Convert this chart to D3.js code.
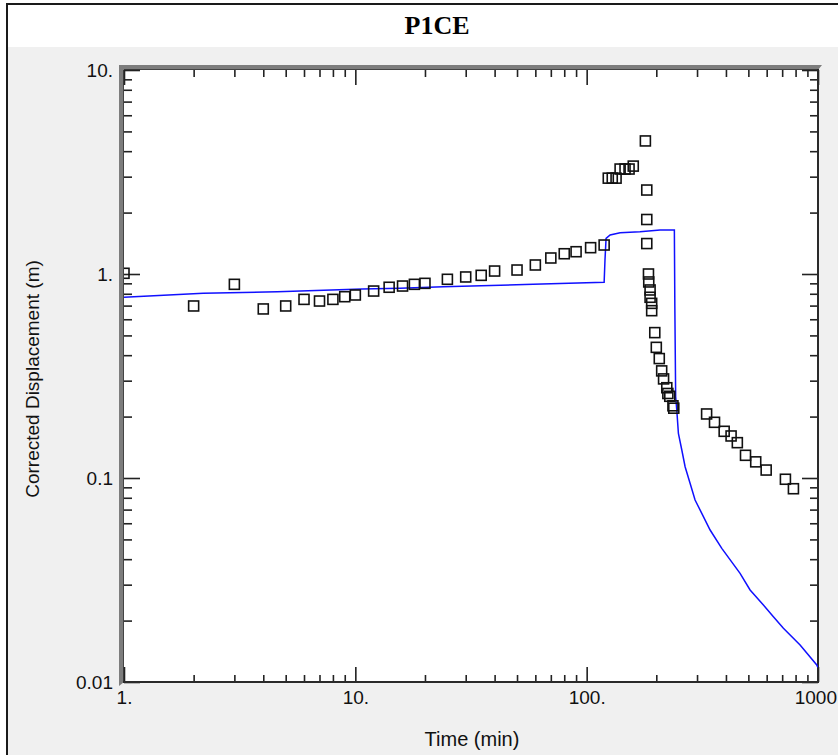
<!DOCTYPE html>
<html>
<head>
<meta charset="utf-8">
<script src="https://cdn.jsdelivr.net/npm/d3@7"></script>
<style>
  html, body { margin: 0; padding: 0; background: #ffffff; }
  svg { display: block; }
</style>
</head>
<body>
<script>
// ---- data ----
const chartTitle = "P1CE";
const xAxisTitle = "Time (min)";
const yAxisTitle = "Corrected Displacement (m)";

const xMajorTicks = [1, 10, 100, 1000];
const xTickLabels = ["1.", "10.", "100.", "1000."];
const yMajorTicks = [0.01, 0.1, 1, 10];
const yTickLabels = ["0.01", "0.1", "1.", "10."];

// observed displacement (squares)
const obsTime = [1, 2, 3, 4, 5, 6, 7, 8, 9, 10, 12, 14, 16, 18, 20, 25, 30, 35, 40, 50, 60, 70, 80, 90, 104, 119,
  124, 129, 134, 139.5, 146.5, 152.5, 159, 179.4, 181.9, 181.9, 181.9,
  185, 185.5, 188, 188, 191, 191, 197, 200, 206, 211, 215, 222, 224.4, 228.7, 236, 238,
  330, 357, 393, 421, 448, 486, 538, 597, 723, 783];
const obsDisp = [1.008, 0.697, 0.890, 0.674, 0.697, 0.751, 0.737, 0.751, 0.774, 0.789, 0.825, 0.861, 0.873, 0.890, 0.900, 0.942, 0.967, 0.985, 1.034, 1.046, 1.107, 1.198, 1.257, 1.286, 1.346, 1.387,
  2.95, 2.95, 2.95, 3.27, 3.27, 3.27, 3.38, 4.49, 2.58, 1.85, 1.41,
  1.0, 0.914, 0.835, 0.769, 0.718, 0.661, 0.516, 0.437, 0.385, 0.335, 0.306, 0.277, 0.2596, 0.2515, 0.2259, 0.2199,
  0.206, 0.1875, 0.1694, 0.1607, 0.149, 0.1292, 0.120, 0.1094, 0.0986, 0.0886];

// model curve (blue line)
const modelTime = [1, 2.2, 4.6, 10.7, 15.6, 24, 58.7, 119, 120, 121.3, 126.3, 139.5, 170, 207.7, 239.4,
  240.5, 242.5, 245.2, 249.2, 257.8, 266.4, 279.9, 294.2, 314.5, 341.7, 383.8, 460.4, 508.7, 580.7, 641.5, 708.7, 836.7, 988, 1000];
const modelDisp = [0.769, 0.804, 0.819, 0.844, 0.851, 0.866, 0.890, 0.910, 1.17, 1.496, 1.553, 1.594, 1.611, 1.643, 1.643,
  0.70, 0.25, 0.2154, 0.1656, 0.1372, 0.1136, 0.0942, 0.078, 0.0671, 0.0556, 0.0452, 0.0341, 0.02825, 0.02385, 0.0209, 0.01833, 0.01518, 0.01211, 0.0118];

// ---- layout ----
const W = 838, H = 755;
const L = 124, R = 818, T = 70, B = 682;

const svg = d3.select("body").append("svg").attr("width", W).attr("height", H);

// outer frame & backgrounds
svg.append("rect").attr("x", 7).attr("y", 4).attr("width", W + 10).attr("height", H + 10)
  .attr("fill", "#f0f0f0").attr("stroke", "#1a1a1a").attr("stroke-width", 2);
svg.append("rect").attr("x", 8).attr("y", 5).attr("width", W).attr("height", 42).attr("fill", "#ffffff");

svg.append("text").attr("x", 437).attr("y", 34).attr("text-anchor", "middle")
  .attr("font-family", "'Liberation Serif', 'Times New Roman', serif").attr("font-weight", "bold")
  .attr("font-size", 26).attr("fill", "#000").text(chartTitle);

// scales
const x = d3.scaleLog().domain([1, 1000]).range([L, R]);
const y = d3.scaleLog().domain([0.01, 10]).range([B, T]);

// bevel (gray) on left and top
svg.append("polygon")
  .attr("points", [[119, 65], [822, 65], [818, 70], [124, 70], [124, 682], [119, 686]].map(p => p.join(",")).join(" "))
  .attr("fill", "#7d7d7d");
svg.append("line").attr("x1", 123.5).attr("x2", 123.5).attr("y1", 70).attr("y2", 682).attr("stroke", "#444").attr("stroke-width", 1);
svg.append("line").attr("x1", 124).attr("x2", 818).attr("y1", 69.5).attr("y2", 69.5).attr("stroke", "#444").attr("stroke-width", 1);

// plot area
svg.append("rect").attr("x", L).attr("y", T).attr("width", R - L).attr("height", B - T).attr("fill", "#ffffff");

svg.append("defs").append("clipPath").attr("id", "clip")
  .append("rect").attr("x", L).attr("y", T).attr("width", R - L).attr("height", B - T);

// minor tick values from the scale
const xMinor = x.ticks().filter(v => !xMajorTicks.includes(v));
const yMinor = y.ticks().filter(v => !yMajorTicks.some(m => Math.abs(m - v) < 1e-9));

const tickColor = "#222";
function styleAxis(g) {
  g.select(".domain").remove();
  g.selectAll(".tick line").attr("stroke", tickColor).attr("stroke-width", 1.6);
  g.selectAll("text").attr("font-family", "'Liberation Sans', Arial, sans-serif").attr("font-size", 19).attr("fill", "#111");
}

// bottom
svg.append("g").attr("transform", `translate(0,${B})`)
  .call(d3.axisBottom(x).tickValues(xMinor).tickSizeInner(-7).tickSizeOuter(0).tickFormat(""))
  .call(styleAxis);
svg.append("g").attr("transform", `translate(0,${B})`)
  .call(d3.axisBottom(x).tickValues(xMajorTicks).tickSizeInner(-15).tickSizeOuter(0).tickPadding(9)
    .tickFormat((d, i) => xTickLabels[i]))
  .call(styleAxis);
// top
svg.append("g").attr("transform", `translate(0,${T})`)
  .call(d3.axisTop(x).tickValues(xMinor).tickSizeInner(-7).tickSizeOuter(0).tickFormat(""))
  .call(styleAxis);
svg.append("g").attr("transform", `translate(0,${T})`)
  .call(d3.axisTop(x).tickValues(xMajorTicks).tickSizeInner(-15).tickSizeOuter(0).tickFormat(""))
  .call(styleAxis);
// left
svg.append("g").attr("transform", `translate(${L},0)`)
  .call(d3.axisLeft(y).tickValues(yMinor).tickSizeInner(-8).tickSizeOuter(0).tickFormat(""))
  .call(styleAxis);
svg.append("g").attr("transform", `translate(${L},0)`)
  .call(d3.axisLeft(y).tickValues(yMajorTicks).tickSizeInner(-16).tickSizeOuter(0).tickPadding(11)
    .tickFormat((d, i) => yTickLabels[i]))
  .call(styleAxis);
// right
svg.append("g").attr("transform", `translate(${R},0)`)
  .call(d3.axisRight(y).tickValues(yMinor).tickSizeInner(-8).tickSizeOuter(0).tickFormat(""))
  .call(styleAxis);
svg.append("g").attr("transform", `translate(${R},0)`)
  .call(d3.axisRight(y).tickValues(yMajorTicks).tickSizeInner(-16).tickSizeOuter(0).tickFormat(""))
  .call(styleAxis);

// right & bottom border lines
svg.append("line").attr("x1", R).attr("x2", R).attr("y1", T - 1).attr("y2", B + 1).attr("stroke", "#2a2a2a").attr("stroke-width", 2);
svg.append("line").attr("x1", L - 1).attr("x2", R + 1).attr("y1", B).attr("y2", B).attr("stroke", "#2a2a2a").attr("stroke-width", 2);

// model line
const modelData = modelTime.map((t, i) => [t, modelDisp[i]]);
svg.append("path").datum(modelData).attr("clip-path", "url(#clip)")
  .attr("fill", "none").attr("stroke", "#1010ff").attr("stroke-width", 1.5)
  .attr("d", d3.line().x(d => x(d[0])).y(d => y(d[1])));

// observed squares
const obsData = obsTime.map((t, i) => [t, obsDisp[i]]);
const S = 10;
svg.append("g").attr("clip-path", "url(#clip)")
  .selectAll("rect").data(obsData).join("rect")
  .attr("x", d => x(d[0]) - S / 2).attr("y", d => y(d[1]) - S / 2)
  .attr("width", S).attr("height", S)
  .attr("fill", "none").attr("stroke", "#111").attr("stroke-width", 1.6);

// axis titles
svg.append("text").attr("x", 472).attr("y", 746).attr("text-anchor", "middle")
  .attr("font-family", "'Liberation Sans', Arial, sans-serif").attr("font-size", 20).attr("fill", "#111")
  .text(xAxisTitle);
svg.append("text").attr("transform", "translate(39,379) rotate(-90)").attr("text-anchor", "middle")
  .attr("font-family", "'Liberation Sans', Arial, sans-serif").attr("font-size", 19).attr("fill", "#111")
  .text(yAxisTitle);
</script>
</body>
</html>
